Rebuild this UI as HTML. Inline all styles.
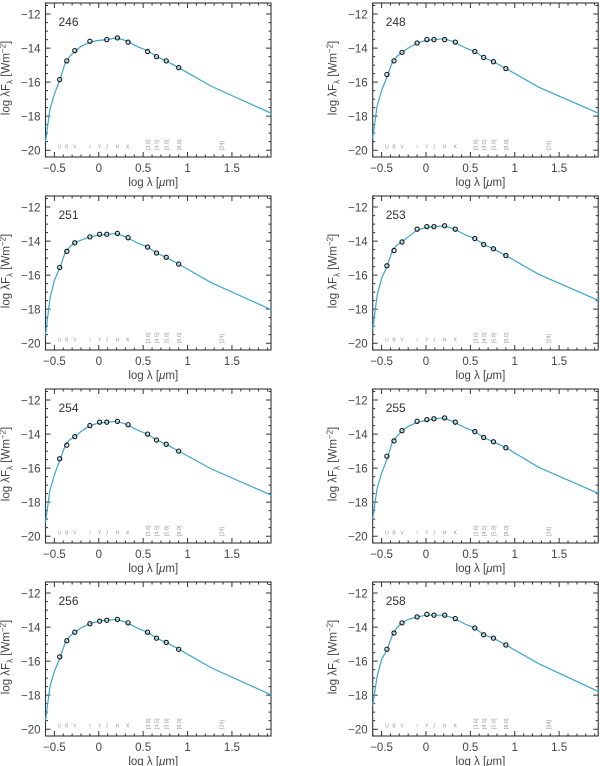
<!DOCTYPE html>
<html><head><meta charset="utf-8"><style>
html,body{margin:0;padding:0;background:#fff;}
svg{display:block;font-family:"Liberation Sans",sans-serif;}
</style></head><body>
<svg id="fig" width="600" height="766" viewBox="0 0 600 766"></svg>
<script>
const panelNames = ["246","248","251","253","254","255","256","258"];
const obsLam = [-0.44,-0.36,-0.27,-0.1,0.01,0.09,0.21,0.33,0.55,0.65,0.76,0.9];
const obs246 = [-15.85,-14.75,-14.15,-13.6,null,-13.5,-13.4,-13.65,-14.2,-14.5,-14.75,-15.15];
const obs248 = [-15.55,-14.75,-14.25,-13.7,-13.5,-13.5,-13.5,-13.65,-14.2,-14.55,-14.8,-15.2];
const obs251 = [-15.55,-14.6,-14.1,-13.75,-13.6,-13.6,-13.55,-13.8,-14.35,-14.7,-14.95,-15.35];
const obs253 = [-15.45,-14.55,-14.05,-13.3,-13.15,-13.15,-13.1,-13.3,-13.85,-14.2,-14.45,-14.85];
const obs254 = [-15.45,-14.65,-14.15,-13.5,-13.3,-13.3,-13.25,-13.45,-14.0,-14.35,-14.6,-15.0];
const obs255 = [-15.3,-14.4,-13.8,-13.25,-13.15,-13.1,-13.05,-13.3,-13.85,-14.2,-14.45,-14.8];
const obs256 = [-15.75,-14.8,-14.3,-13.8,-13.65,-13.6,-13.55,-13.75,-14.3,-14.65,-14.9,-15.3];
const obs258 = [-15.3,-14.35,-13.75,-13.4,-13.25,-13.3,-13.3,-13.5,-14.05,-14.45,-14.65,-15.05];
const modLam = [-0.6,-0.55,-0.5,-0.44,-0.38,-0.33,-0.27,-0.2,-0.1,0,0.1,0.2,0.3,0.45,0.55,0.65,0.76,0.9,1.27,1.95];
const mod246 = [-19.5,-17.6,-16.7,-15.9,-14.9,-14.5,-14.2,-13.9,-13.65,-13.55,-13.5,-13.4,-13.55,-13.95,-14.15,-14.5,-14.75,-15.15,-16.25,-17.85];
const mod248 = [-19.3,-17.4,-16.5,-15.7,-14.85,-14.5,-14.25,-14.0,-13.7,-13.55,-13.5,-13.45,-13.6,-14.0,-14.2,-14.55,-14.8,-15.2,-16.3,-17.85];
const mod251 = [-19.5,-17.4,-16.3,-15.6,-14.7,-14.35,-14.1,-13.95,-13.75,-13.65,-13.6,-13.55,-13.75,-14.15,-14.35,-14.7,-14.95,-15.35,-16.45,-18.05];
const mod253 = [-19.2,-17.2,-16.2,-15.5,-14.6,-14.25,-14.05,-13.75,-13.35,-13.2,-13.15,-13.1,-13.25,-13.65,-13.85,-14.2,-14.45,-14.85,-15.95,-17.5];
const mod254 = [-19.2,-17.3,-16.4,-15.55,-14.7,-14.35,-14.15,-13.85,-13.5,-13.35,-13.3,-13.25,-13.4,-13.8,-14.0,-14.35,-14.6,-15.0,-16.05,-17.6];
const mod255 = [-19.0,-17.2,-16.3,-15.5,-14.5,-14.15,-13.8,-13.55,-13.3,-13.2,-13.1,-13.05,-13.25,-13.65,-13.85,-14.2,-14.45,-14.8,-15.95,-17.5];
const mod256 = [-19.5,-17.5,-16.6,-15.85,-14.95,-14.55,-14.3,-14.05,-13.8,-13.65,-13.6,-13.55,-13.7,-14.1,-14.3,-14.65,-14.9,-15.3,-16.4,-18.0];
const mod258 = [-18.6,-16.9,-15.9,-15.35,-14.5,-14.05,-13.75,-13.55,-13.4,-13.3,-13.3,-13.3,-13.45,-13.85,-14.05,-14.45,-14.65,-15.05,-16.15,-17.8];
const obsSets = [obs246,obs248,obs251,obs253,obs254,obs255,obs256,obs258];
const modSets = [mod246,mod248,mod251,mod253,mod254,mod255,mod256,mod258];
const xTicks = [-0.5,0,0.5,1,1.5];
const xTickLabels = ["\u22120.5","0","0.5","1","1.5"];
const yTicks = [-12,-14,-16,-18,-20];
const yTickLabels = ["\u221212","\u221214","\u221216","\u221218","\u221220"];
const bandNames = ["U","B","V","I","Y","J","H","K"];
const bandLam = [-0.44,-0.36,-0.27,-0.1,0.01,0.09,0.21,0.33];
const iracNames = ["[3.6]","[4.5]","[5.8]","[8.0]","[24]"];
const iracLam = [0.556,0.653,0.763,0.903,1.38];

const NS="http://www.w3.org/2000/svg";
const svg=document.getElementById('fig');
function mk(tag,attrs,parent){const e=document.createElementNS(NS,tag);for(const k in attrs)e.setAttribute(k,attrs[k]);(parent||svg).appendChild(e);return e;}
const X0=-0.6,X1=1.94,Y0=-11.35,Y1=-20.4,W=225.5,H=154;
const colLeft=[45.5,372.7];
for(let i=0;i<panelNames.length;i++){
  const L=colLeft[i%2], T=3+193*Math.floor(i/2);
  const sx=v=>L+(v-X0)/(X1-X0)*W, sy=v=>T+(v-Y0)/(Y1-Y0)*H;
  const g=mk('g',{});
  
  
  const fr=mk('rect',{x:L,y:T,width:W,height:H,fill:'none',stroke:'#333','stroke-width':1.1},g);
  
  
  let d='';
  for(let k=-6;k<=19;k++){const v=k/10;if(v<X0||v>X1)continue;const x=sx(v);const len=(k%5===0)?5:2.5;d+=`M${x} ${T+H}v${-len}M${x} ${T}v${len}`;}
  for(let k=-40;k>=-82;k--){const v=k/4;if(k%2!==0)continue;if(v>Y0||v<Y1)continue;const y=sy(v);const len=(k%8===0)?5:2.5;d+=`M${L} ${y}h${len}M${L+W} ${y}h${-len}`;}
  const tk=mk('path',{d:d,stroke:'#333','stroke-width':1,fill:'none'},g);
  
  
  xTicks.forEach((v,j)=>{const t=mk('text',{x:sx(v),y:T+H+15,'font-size':11.5,'text-anchor':'middle',fill:'#444'},g);t.textContent=xTickLabels[j];
    
    });
  yTicks.forEach((v,j)=>{const t=mk('text',{x:L-5,y:sy(v)+4.5,'font-size':11.5,'text-anchor':'end',fill:'#444'},g);t.textContent=yTickLabels[j];
    
    });
  const xt=mk('text',{x:L+W/2-5,y:T+H+29,'font-size':11.5,'text-anchor':'middle',fill:'#444'},g);
  xt.innerHTML='log \u03bb [<tspan font-style="italic">\u03bc</tspan>m]';
  
  
  const yt=mk('text',{x:0,y:0,'font-size':11.5,'text-anchor':'middle',fill:'#444',transform:`translate(${L-36},${T+H/2-2}) rotate(-90)`},g);
  yt.innerHTML='log \u03bbF<tspan font-size="8" dy="3">\u03bb</tspan><tspan dy="-3"> [Wm</tspan><tspan font-size="8" dy="-4">\u22122</tspan><tspan dy="4">]</tspan>';
  
  
  const lb=mk('text',{x:L+13,y:T+23,'font-size':12,fill:'#333'},g);lb.textContent=panelNames[i];
  
  
  bandNames.forEach((n,j)=>{const t=mk('text',{x:sx(bandLam[j]),y:sy(-19.9),'font-size':5,'text-anchor':'middle',fill:'#999'},g);t.textContent=n;
    
    });
  iracNames.forEach((n,j)=>{const t=mk('text',{x:0,y:0,'font-size':5.5,'text-anchor':'start',fill:'#999',transform:`translate(${sx(iracLam[j])+2},${sy(-20)}) rotate(-90)`},g);t.textContent=n;
    
    });
  const m=modSets[i];
  const pts=modLam.map((v,j)=>sx(v).toFixed(1)+','+Math.min(sy(m[j]),T+H).toFixed(1)).join(' ');
  const cp=mk('polyline',{points:pts,fill:'none',stroke:'#3aa6cf','stroke-width':1.2},g);
  
  
  const o=obsSets[i];
  obsLam.forEach((v,j)=>{if(o[j]===null)return;const c=mk('circle',{cx:sx(v),cy:sy(o[j]),r:2.1,fill:'#fff','fill-opacity':0.3,stroke:'#111','stroke-width':1.1},g);
    
    });
}
</script>
</body></html>
